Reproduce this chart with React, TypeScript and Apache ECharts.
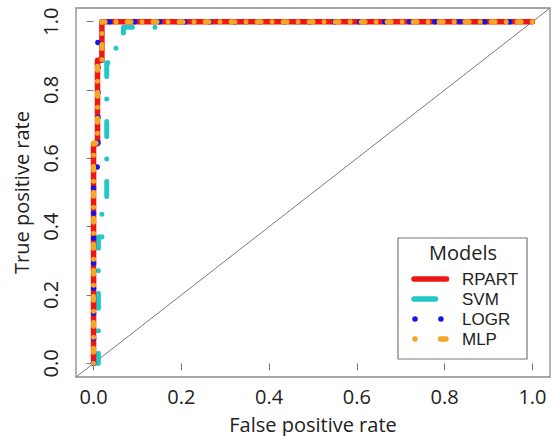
import React, { useEffect, useRef } from "react";
import * as echarts from "echarts";

// Axis tick values
const TICKS = [0, 0.2, 0.4, 0.6, 0.8, 1.0];
const MODELS = ["RPART", "SVM", "LOGR", "MLP"];
const COLORS = ["#f01414", "#22c8c8", "#1414e6", "#f5a623"];

// ROC curves (false positive rate, true positive rate)
const RPART_FPR = [0, 0, 0.009, 0.009, 0.019, 0.019, 1];
const RPART_TPR = [0, 0.643, 0.643, 0.887, 0.887, 1, 1];

const SVM_FPR = [0, 0.011, 0.011, 0.019, 0.019, 0.03, 0.03, 0.051, 0.051, 0.068, 0.068, 0.17, 0.17, 1];
const SVM_TPR = [0, 0, 0.37, 0.37, 0.47, 0.47, 0.88, 0.88, 0.937, 0.937, 0.984, 0.984, 1, 1];

const LOGR_FPR = [0, 0, 0.01, 0.01, 0.036, 0.036, 1];
const LOGR_TPR = [0, 0.575, 0.575, 0.94, 0.984, 1, 1];

const MLP_FPR = [0, 0, 0.009, 0.009, 0.019, 0.019, 1];
const MLP_TPR = [0, 0.645, 0.645, 0.887, 0.887, 1, 1];

const FONT = "'Open Sans', 'Noto Sans', sans-serif";
const LEGEND_FONT = "'Liberation Sans', Arial, sans-serif";

function pairs(xs: number[], ys: number[]) {
  return xs.map((x, i) => [x, ys[i]]);
}

export default function App() {
  const ref = useRef<HTMLDivElement>(null);
  useEffect(() => {
    if (!ref.current) return;
    const chart = echarts.init(ref.current, null, { renderer: "svg" });

    const lineBase = (name: string, data: number[][], color: string, width: number, type: any) => ({
      name,
      type: "line",
      data,
      symbol: "none",
      silent: true,
      lineStyle: { color, width, type, cap: "round", join: "round" },
    });

    const legendTop = 279;
    const legendStep = 20;
    const legendGraphics: any[] = [
      {
        type: "rect",
        shape: { x: 398, y: 238, width: 129, height: 121 },
        style: { fill: "#fff", stroke: "#777", lineWidth: 1.2 },
        z: 100,
      },
      {
        type: "text",
        x: 463,
        y: 252,
        style: {
          text: "Models",
          font: `20px ${FONT}`,
          fill: "#222",
          align: "center",
          verticalAlign: "middle",
        },
        z: 101,
      },
    ];
    const legendLines = [
      { x1: 414, x2: 446.5, dash: null },
      { x1: 414, x2: 435.5, dash: null },
      { x1: 415, x2: 441, dash: [0.01, 25.9] },
      { x1: 415, x2: 446, dash: [0.01, 25.5, 5.5, 100] },
    ];
    MODELS.forEach((m, i) => {
      const y = legendTop + legendStep * i;
      const l = legendLines[i];
      legendGraphics.push({
        type: "line",
        shape: { x1: l.x1, y1: y, x2: l.x2, y2: y },
        style: { stroke: COLORS[i], lineWidth: 5.5, lineCap: "round", lineDash: l.dash },
        z: 101,
      });
      legendGraphics.push({
        type: "text",
        x: 462,
        y: y,
        style: {
          text: m,
          font: `17px ${LEGEND_FONT}`,
          fill: "#222",
          align: "left",
          verticalAlign: "middle",
        },
        z: 101,
      });
    });

    chart.setOption({
      animation: false,
      grid: {
        left: 76,
        right: 8,
        top: 8,
        bottom: 59,
        outerBoundsMode: "none",
        containLabel: false,
        show: true,
        borderColor: "#8a8a8a",
        borderWidth: 1.3,
        backgroundColor: "#fff",
      },
      xAxis: {
        type: "value",
        min: -0.04,
        max: 1.04,
        name: "False positive rate",
        nameLocation: "middle",
        nameGap: 37,
        nameTextStyle: { fontSize: 20, fontFamily: FONT, color: "#222" },
        axisLine: { show: false },
        splitLine: { show: false },
        axisTick: { show: true, customValues: TICKS, length: 7, lineStyle: { color: "#777" } },
        axisLabel: {
          customValues: TICKS,
          formatter: (v: number) => v.toFixed(1),
          fontSize: 20,
          fontFamily: FONT,
          color: "#222",
          margin: 9,
        },
      },
      yAxis: {
        type: "value",
        min: -0.04,
        max: 1.04,
        name: "True positive rate",
        nameLocation: "middle",
        nameRotate: 90,
        nameGap: 45,
        nameTextStyle: { fontSize: 20, fontFamily: FONT, color: "#222" },
        axisLine: { show: false },
        splitLine: { show: false },
        axisTick: { show: true, customValues: TICKS, length: 7, lineStyle: { color: "#777" } },
        axisLabel: {
          customValues: TICKS,
          formatter: (v: number) => v.toFixed(1),
          rotate: 90,
          fontSize: 20,
          fontFamily: FONT,
          color: "#222",
          margin: 16,
        },
      },
      series: [
        {
          type: "line",
          data: [[-0.04, -0.04], [1.04, 1.04]],
          symbol: "none",
          silent: true,
          lineStyle: { color: "#7a7a7a", width: 1 },
        },
        lineBase("SVM", pairs(SVM_FPR, SVM_TPR), COLORS[1], 5, [15, 22.5, 0.01, 22.5]),
        lineBase("RPART", pairs(RPART_FPR, RPART_TPR), COLORS[0], 5.5, "solid"),
        lineBase("LOGR", pairs(LOGR_FPR, LOGR_TPR), COLORS[2], 5.5, [0.01, 25]),
        lineBase("MLP", pairs(MLP_FPR, MLP_TPR), COLORS[3], 5, [0.01, 11, 4, 11]),
      ],
      graphic: legendGraphics,
    });
    return () => chart.dispose();
  }, []);
  return <div ref={ref} style={{ width: 558, height: 436, position: "absolute", left: 0, top: 0 }} />;
}
